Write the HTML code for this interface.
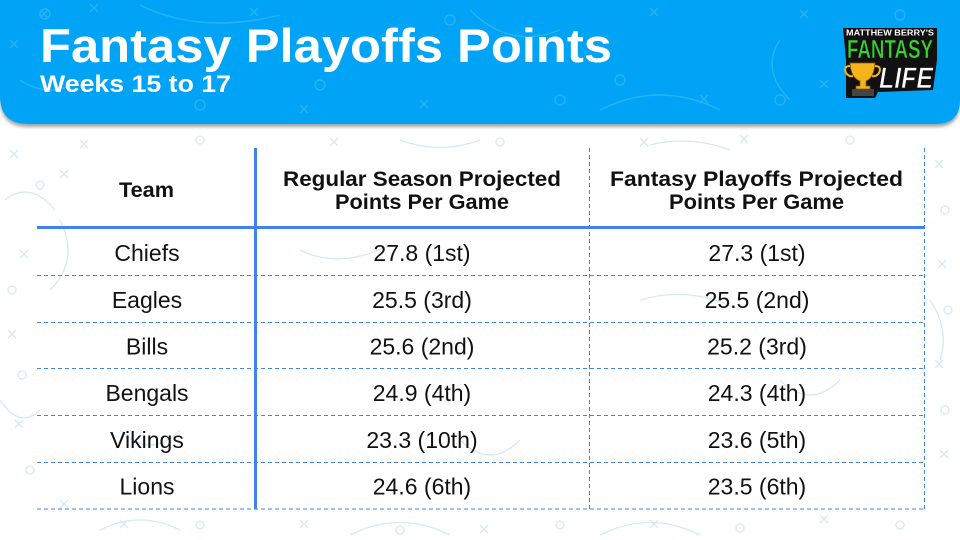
<!DOCTYPE html>
<html>
<head>
<meta charset="utf-8">
<style>
  html,body{margin:0;padding:0;background:#fff;}
  svg{display:block;}
  .t{font-family:"Liberation Sans",Arial,sans-serif;}
</style>
</head>
<body>
<svg width="960" height="540" viewBox="0 0 960 540" xmlns="http://www.w3.org/2000/svg">
  <defs>
    <filter id="sh" x="-5%" y="-20%" width="110%" height="140%">
      <feDropShadow dx="0" dy="3" stdDeviation="1.6" flood-color="#000" flood-opacity="0.35"/>
    </filter>
  </defs>
  <rect width="960" height="540" fill="#ffffff"/>

  <!-- faint background doodles -->
  <g fill="none" stroke="#cfe7f7" stroke-width="1.3" opacity="0.9">
    <path d="M10 150 l8 8 M18 150 l-8 8"/>
    <path d="M60 170 l8 8 M68 170 l-8 8"/>
    <path d="M20 250 l8 8 M28 250 l-8 8"/>
    <path d="M8 330 l8 8 M16 330 l-8 8"/>
    <path d="M15 420 l8 8 M23 420 l-8 8"/>
    <path d="M60 500 l8 8 M68 500 l-8 8"/>
    <path d="M120 520 l8 8 M128 520 l-8 8"/>
    <path d="M300 520 l8 8 M308 520 l-8 8"/>
    <path d="M480 525 l8 8 M488 525 l-8 8"/>
    <path d="M650 520 l8 8 M658 520 l-8 8"/>
    <path d="M820 515 l8 8 M828 515 l-8 8"/>
    <path d="M935 160 l8 8 M943 160 l-8 8"/>
    <path d="M938 260 l8 8 M946 260 l-8 8"/>
    <path d="M935 360 l8 8 M943 360 l-8 8"/>
    <path d="M940 450 l8 8 M948 450 l-8 8"/>
    <path d="M80 140 l8 8 M88 140 l-8 8"/>
    <path d="M330 138 l8 8 M338 138 l-8 8"/>
    <path d="M640 138 l8 8 M648 138 l-8 8"/>
    <path d="M740 135 l8 8 M748 135 l-8 8"/>
    <circle cx="40" cy="185" r="4"/>
    <circle cx="12" cy="290" r="4"/>
    <circle cx="22" cy="375" r="4"/>
    <circle cx="30" cy="470" r="4"/>
    <circle cx="200" cy="525" r="4"/>
    <circle cx="400" cy="530" r="4"/>
    <circle cx="560" cy="525" r="4"/>
    <circle cx="740" cy="528" r="4"/>
    <circle cx="900" cy="525" r="4"/>
    <circle cx="945" cy="210" r="4"/>
    <circle cx="948" cy="310" r="4"/>
    <circle cx="945" cy="410" r="4"/>
    <circle cx="200" cy="140" r="4"/>
    <circle cx="500" cy="142" r="4"/>
    <circle cx="850" cy="140" r="4"/>
    <path d="M5 200 q25 -20 50 10"/>
    <path d="M0 400 q20 30 40 10"/>
    <path d="M100 530 q40 -20 80 0"/>
    <path d="M350 535 q50 -25 100 0"/>
    <path d="M600 535 q50 -25 100 0"/>
    <path d="M930 300 q20 30 10 60"/>
    <path d="M400 140 q40 15 80 0"/>
    <path d="M650 145 q40 -10 80 5"/>
    <path d="M60 220 q20 40 -10 70"/>
    <path d="M300 250 q40 20 90 -5"/>
    <path d="M640 300 q50 -15 100 10"/>
    <path d="M120 430 q30 30 60 0"/>
    <path d="M460 440 q30 30 60 0"/>
    <path d="M780 380 q30 30 60 0"/>
  </g>

  <!-- header band -->
  <path d="M0 0 H960 V100 Q960 124 936 124 H28 Q0 124 0 96 Z" fill="#00a3f6" filter="url(#sh)"/>
  <g fill="none" stroke="#33b7f8" stroke-width="1.4" opacity="0.8">
    <path d="M40 10 l8 8 M48 10 l-8 8"/>
    <path d="M90 4 l8 8 M98 4 l-8 8"/>
    <path d="M250 8 l8 8 M258 8 l-8 8"/>
    <path d="M300 105 l8 8 M308 105 l-8 8"/>
    <path d="M420 100 l8 8 M428 100 l-8 8"/>
    <path d="M650 8 l8 8 M658 8 l-8 8"/>
    <path d="M700 95 l8 8 M708 95 l-8 8"/>
    <path d="M800 10 l8 8 M808 10 l-8 8"/>
    <path d="M820 80 l8 8 M828 80 l-8 8"/>
    <path d="M10 40 l8 8 M18 40 l-8 8"/>
    <circle cx="45" cy="14" r="5"/>
    <circle cx="200" cy="105" r="5"/>
    <circle cx="320" cy="85" r="5"/>
    <circle cx="450" cy="20" r="5"/>
    <circle cx="560" cy="100" r="5"/>
    <circle cx="620" cy="80" r="5"/>
    <circle cx="780" cy="100" r="5"/>
    <circle cx="900" cy="15" r="5"/>
    <path d="M140 5 q60 30 140 10"/>
    <path d="M470 10 q40 40 90 20"/>
    <path d="M600 110 q60 -30 120 0"/>
    <path d="M780 40 q-20 30 10 60"/>
    <path d="M20 80 q30 20 60 0"/>
  </g>

  <!-- title -->
  <text class="t" x="40" y="62" font-size="47" font-weight="700" fill="#ffffff" textLength="572" lengthAdjust="spacingAndGlyphs">Fantasy Playoffs Points</text>
  <text class="t" x="40" y="92" font-size="24" font-weight="700" fill="#ffffff" textLength="191" lengthAdjust="spacingAndGlyphs">Weeks 15 to 17</text>

  <!-- logo -->
  <g>
    <path d="M843 28 L937 28 L937 60 L933 90 L878 92 L875 98 L846 98 L846 60 Z" fill="#111"/>
    <text class="t" x="846" y="35.5" font-size="8" font-weight="700" fill="#ffffff" textLength="88" lengthAdjust="spacingAndGlyphs">MATTHEW BERRY'S</text>
    <text class="t" x="847" y="58" font-size="26" font-weight="700" fill="#35d42c" stroke="#111" stroke-width="0.6" textLength="86" lengthAdjust="spacingAndGlyphs">FANTASY</text>
    <path d="M850 63 H875 Q874 78 866 81 V86 H870 V89 H856 V86 H860 V81 Q851 78 850 63 Z" fill="#f3b51a" stroke="#8a5a00" stroke-width="0.8"/>
    <path d="M850 66 Q843 66 846 73 Q849 77 853 76" fill="none" stroke="#f3b51a" stroke-width="2"/>
    <path d="M875 66 Q882 66 879 73 Q876 77 872 76" fill="none" stroke="#f3b51a" stroke-width="2"/>
    <rect x="852" y="89" width="22" height="7" fill="#444"/>
    <text class="t" x="879" y="88" font-size="30" font-weight="700" font-style="italic" fill="#ffffff" stroke="#111" stroke-width="0.8" textLength="54" lengthAdjust="spacingAndGlyphs">LIFE</text>
  </g>

  <!-- table lines -->
  <g stroke="#3f83f0" fill="none">
    <g stroke-width="1" stroke-dasharray="4 3">
      <line x1="37" y1="275.5" x2="924" y2="275.5"/>
      <line x1="37" y1="322.5" x2="924" y2="322.5"/>
      <line x1="37" y1="368.5" x2="924" y2="368.5"/>
      <line x1="37" y1="415.5" x2="924" y2="415.5"/>
      <line x1="37" y1="462.5" x2="924" y2="462.5"/>
      <line x1="37" y1="509" x2="924" y2="509"/>
      <line x1="589.5" y1="148" x2="589.5" y2="509"/>
      <line x1="924.5" y1="148" x2="924.5" y2="509"/>
    </g>
    <line x1="37" y1="227.5" x2="924" y2="227.5" stroke-width="3"/>
    <line x1="255.5" y1="148" x2="255.5" y2="509" stroke-width="3"/>
  </g>

  <!-- header text -->
  <g class="t" font-weight="700" font-size="21" fill="#111" text-anchor="middle">
    <text x="146.5" y="197" textLength="55" lengthAdjust="spacingAndGlyphs">Team</text>
    <text x="422" y="186" textLength="278" lengthAdjust="spacingAndGlyphs">Regular Season Projected</text>
    <text x="422" y="209" textLength="174" lengthAdjust="spacingAndGlyphs">Points Per Game</text>
    <text x="756.5" y="186" textLength="293" lengthAdjust="spacingAndGlyphs">Fantasy Playoffs Projected</text>
    <text x="756.5" y="209" textLength="175" lengthAdjust="spacingAndGlyphs">Points Per Game</text>
  </g>

  <!-- body text -->
  <g class="t" font-size="23" fill="#111" text-anchor="middle">
    <text x="147" y="261">Chiefs</text>
    <text x="422" y="261">27.8 (1st)</text>
    <text x="757" y="261">27.3 (1st)</text>

    <text x="147" y="308">Eagles</text>
    <text x="422" y="308">25.5 (3rd)</text>
    <text x="757" y="308">25.5 (2nd)</text>

    <text x="147" y="354.5">Bills</text>
    <text x="422" y="354.5">25.6 (2nd)</text>
    <text x="757" y="354.5">25.2 (3rd)</text>

    <text x="147" y="401">Bengals</text>
    <text x="422" y="401">24.9 (4th)</text>
    <text x="757" y="401">24.3 (4th)</text>

    <text x="147" y="448">Vikings</text>
    <text x="422" y="448">23.3 (10th)</text>
    <text x="757" y="448">23.6 (5th)</text>

    <text x="147" y="494.5">Lions</text>
    <text x="422" y="494.5">24.6 (6th)</text>
    <text x="757" y="494.5">23.5 (6th)</text>
  </g>
</svg>
</body>
</html>
